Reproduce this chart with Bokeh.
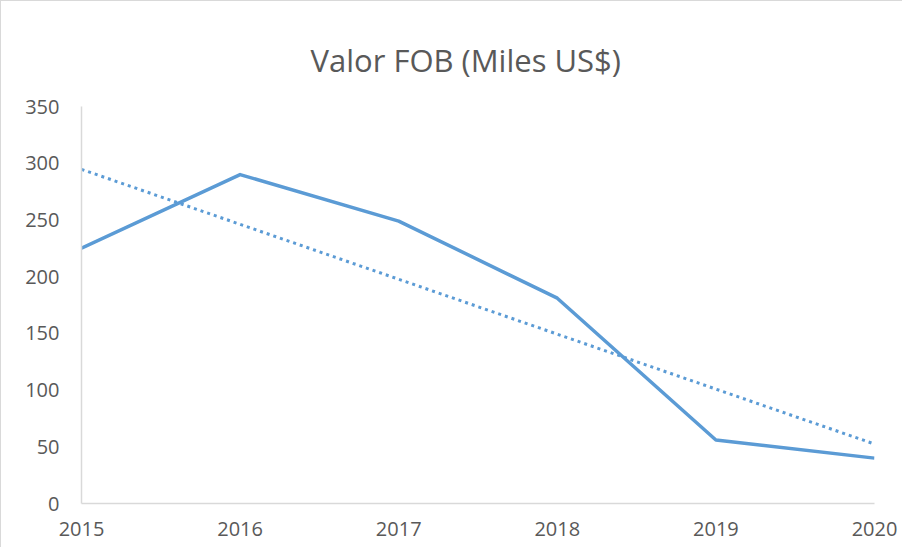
import numpy as np
from bokeh.plotting import figure
from bokeh.models import Range1d, FixedTicker, ColumnDataSource
from bokeh.embed import file_html
from bokeh.resources import INLINE

# Data
years = [2015, 2016, 2017, 2018, 2019, 2020]
valor_fob = [225, 290, 249, 181, 56, 40]
y_ticks = [0, 50, 100, 150, 200, 250, 300, 350]

# Linear trendline (as in the spreadsheet's trendline)
coef = np.polyfit(years, valor_fob, 1)
trend = list(np.polyval(coef, years))

p = figure(width=902, height=547, output_backend="svg", toolbar_location=None,
           x_range=Range1d(2015, 2020), y_range=Range1d(0, 350),
           min_border_left=80, min_border_right=29, min_border_top=105,
           min_border_bottom=45)
p.styles = {"border-left": "1px solid #D9D9D9", "border-top": "1px solid #D9D9D9"}

p.title.text = "Valor FOB (Miles US$)"
p.title.align = "left"
p.title.text_font = "Open Sans"
p.title.text_font_size = "31px"
p.title.text_font_style = "normal"
p.title.text_color = "#595959"
p.title.offset = 229
p.title.standoff = 51

p.outline_line_color = None
p.grid.visible = False
p.background_fill_color = "white"
p.border_fill_color = "white"

src = ColumnDataSource(dict(x=years, y=valor_fob, t=trend))
p.line("x", "t", source=src, line_color="#5B9BD5", line_width=3,
       line_dash="3 4")
p.line("x", "y", source=src, line_color="#5B9BD5", line_width=3.5,
       line_join="round")

for ax in (p.xaxis[0], p.yaxis[0]):
    ax.axis_line_color = "#D9D9D9"
    ax.axis_line_width = 1.5
    ax.major_tick_line_color = None
    ax.minor_tick_line_color = None
    ax.major_label_text_font = "Open Sans"
    ax.major_label_text_font_size = "20px"
    ax.major_label_text_color = "#595959"

p.xaxis.ticker = FixedTicker(ticks=years)
p.yaxis.ticker = FixedTicker(ticks=y_ticks)
p.xaxis.major_label_standoff = 12
p.yaxis.major_label_standoff = 16

open("out.html", "w").write(file_html(p, INLINE))
